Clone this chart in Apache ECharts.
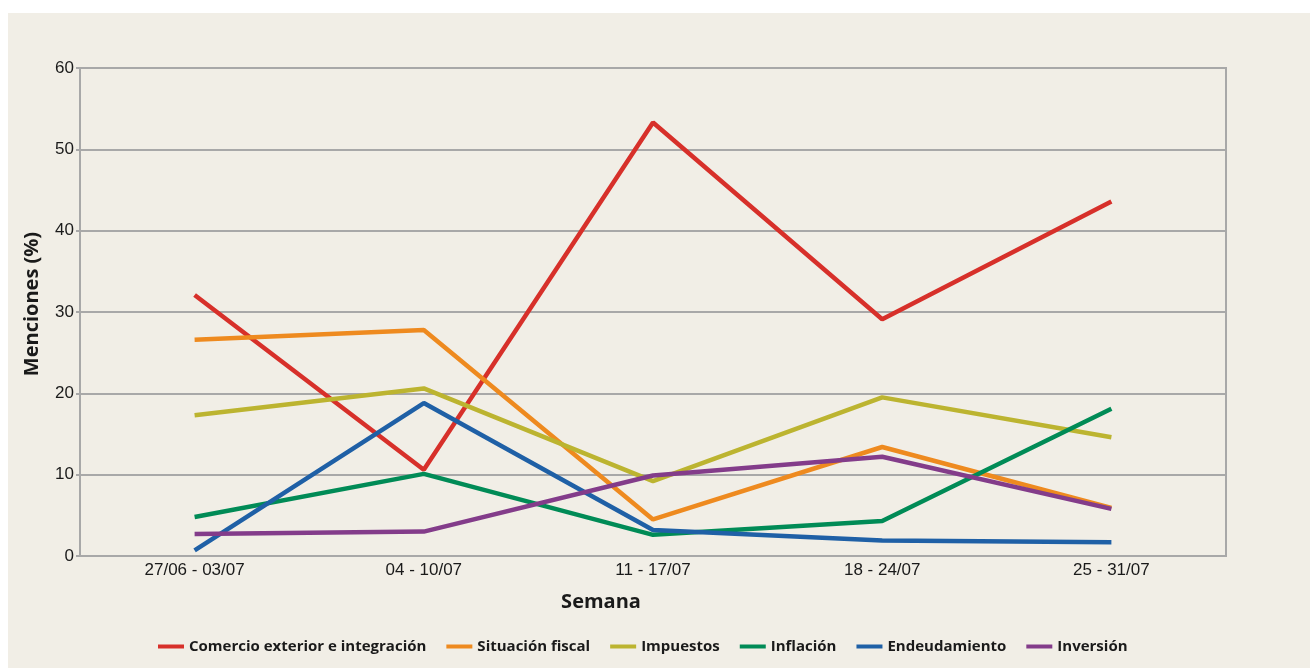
<!DOCTYPE html>
<html>
<head>
<meta charset="utf-8">
<script src="https://cdn.jsdelivr.net/npm/echarts@6/dist/echarts.min.js"></script>
<style>
  html, body { margin: 0; padding: 0; background: #ffffff; }
  #main { position: absolute; left: 8px; top: 13px; width: 1302px; height: 655px; background: #f1eee6; }
</style>
</head>
<body>
<div id="main"></div>
<script>
var semanas = ['27/06 - 03/07', '04 - 10/07', '11 - 17/07', '18 - 24/07', '25 - 31/07'];

var comercio = [32.1, 10.6, 53.3, 29.1, 43.6];
var fiscal = [26.6, 27.8, 4.5, 13.4, 5.9];
var impuestos = [17.3, 20.6, 9.2, 19.5, 14.6];
var inflacion = [4.8, 10.1, 2.6, 4.3, 18.1];
var endeudamiento = [0.7, 18.8, 3.2, 1.9, 1.7];
var inversion = [2.7, 3.0, 9.9, 12.2, 5.8];

var nombres = ['Comercio exterior e integración', 'Situación fiscal', 'Impuestos', 'Inflación', 'Endeudamiento', 'Inversión'];
var colores = ['#d7302a', '#ee8a1f', '#bcb430', '#008b56', '#1f60a6', '#833c8a'];
var valores = [comercio, fiscal, impuestos, inflacion, endeudamiento, inversion];

var myChart = echarts.init(document.getElementById('main'));

var series = [];
for (var i = 0; i < nombres.length; i++) {
    series.push({
        name: nombres[i],
        type: 'line',
        data: valores[i],
        symbol: 'none',
        lineStyle: { color: colores[i], width: 4.5 },
        itemStyle: { color: colores[i] }
    });
}

option = {
    animation: false,
    color: colores,
    grid: {
        left: 72, top: 55, width: 1146, height: 488,
        show: true, borderColor: '#a8a8a8', borderWidth: 2, backgroundColor: 'transparent'
    },
    legend: {
        bottom: 9,
        left: 145,
        icon: 'rect',
        itemWidth: 26,
        itemHeight: 4,
        itemGap: 20,
        data: nombres,
        textStyle: { fontFamily: 'Open Sans', fontWeight: 'bold', fontSize: 15, color: '#1a1a1a' }
    },
    xAxis: {
        type: 'category',
        data: semanas,
        boundaryGap: true,
        name: 'Semana',
        nameLocation: 'middle',
        nameGap: 36,
        nameTextStyle: {
            fontFamily: 'Open Sans', fontWeight: 'bold', fontSize: 20, color: '#1a1a1a',
            padding: [0, 104, 0, 0]
        },
        axisLine: { lineStyle: { color: '#a8a8a8', width: 2 } },
        axisTick: { show: false },
        axisLabel: { fontFamily: 'Liberation Sans', fontSize: 17, color: '#1a1a1a', margin: 6 }
    },
    yAxis: {
        type: 'value',
        min: 0, max: 60, interval: 10,
        name: 'Menciones (%)',
        nameLocation: 'middle',
        nameGap: 38,
        nameTextStyle: {
            fontFamily: 'Open Sans', fontWeight: 'bold', fontSize: 20, color: '#1a1a1a',
            padding: [0, 0, 0, 16]
        },
        axisLine: { show: true, lineStyle: { color: '#a8a8a8', width: 2 } },
        axisTick: { show: true, length: 4, lineStyle: { color: '#a8a8a8', width: 2 } },
        splitLine: { lineStyle: { color: '#a8a8a8', width: 2 } },
        axisLabel: { fontFamily: 'Liberation Sans', fontSize: 17, color: '#1a1a1a', margin: 6 }
    },
    series: series
};

myChart.setOption(option);
</script>
</body>
</html>
